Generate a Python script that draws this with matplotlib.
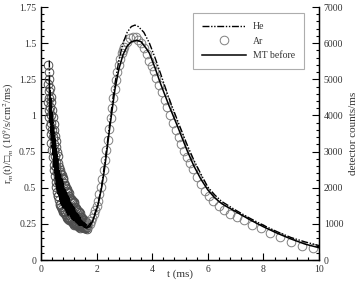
import matplotlib
matplotlib.use("Agg")
import matplotlib.pyplot as plt
from matplotlib.ticker import MultipleLocator, FuncFormatter

plt.rcParams['font.family'] = ['Liberation Serif', 'DejaVu Serif']
plt.rcParams['mathtext.fontset'] = 'stix'

# ---- data ----
# Ar (circles): noisy early region read as upper / middle / lower band values
t_ar_early = [0.250, 0.275, 0.300, 0.325, 0.350, 0.375, 0.400, 0.425, 0.450, 0.475,
              0.500, 0.525, 0.550, 0.575, 0.600, 0.625, 0.650, 0.675, 0.700, 0.725,
              0.750, 0.775, 0.800, 0.825, 0.850, 0.875, 0.900, 0.925, 0.950, 0.975,
              1.000, 1.025, 1.050, 1.075, 1.100, 1.125, 1.150, 1.175, 1.200, 1.225,
              1.250, 1.275, 1.300, 1.325, 1.350, 1.375, 1.400, 1.425, 1.450, 1.475,
              1.500, 1.525, 1.550, 1.575, 1.600, 1.625, 1.650]
y_ar_up = [1.35, 1.30, 1.25, 1.19, 1.13, 1.09, 1.04, 0.99, 0.94, 0.90,
           0.86, 0.82, 0.785, 0.75, 0.72, 0.67, 0.645, 0.62, 0.61, 0.595,
           0.585, 0.57, 0.56, 0.53, 0.52, 0.51, 0.50, 0.49, 0.48, 0.472,
           0.465, 0.44, 0.432, 0.424, 0.417, 0.41, 0.404, 0.398, 0.392, 0.364,
           0.358, 0.351, 0.345, 0.34, 0.335, 0.33, 0.325, 0.30, 0.296, 0.29,
           0.285, 0.28, 0.275, 0.27, 0.265, 0.26, 0.255]
y_ar_mid = [1.22, 1.17, 1.12, 1.06, 1.00, 0.95, 0.90, 0.85, 0.80, 0.76,
            0.72, 0.68, 0.645, 0.61, 0.58, 0.55, 0.525, 0.50, 0.49, 0.475,
            0.465, 0.45, 0.44, 0.43, 0.42, 0.41, 0.40, 0.39, 0.38, 0.372,
            0.365, 0.358, 0.35, 0.342, 0.335, 0.328, 0.322, 0.316, 0.31, 0.304,
            0.298, 0.291, 0.285, 0.28, 0.275, 0.27, 0.265, 0.26, 0.256, 0.252,
            0.248, 0.244, 0.24, 0.237, 0.235, 0.232, 0.23]
y_ar_lo = [1.09, 1.04, 0.99, 0.93, 0.87, 0.81, 0.76, 0.71, 0.66, 0.62,
           0.58, 0.54, 0.505, 0.47, 0.44, 0.44, 0.415, 0.39, 0.38, 0.365,
           0.355, 0.34, 0.33, 0.34, 0.33, 0.32, 0.31, 0.30, 0.29, 0.282,
           0.275, 0.29, 0.282, 0.274, 0.267, 0.26, 0.254, 0.248, 0.242, 0.255,
           0.25, 0.245, 0.24, 0.236, 0.232, 0.228, 0.224, 0.238, 0.235, 0.232,
           0.229, 0.226, 0.224, 0.222, 0.22, 0.218, 0.216]

t_ar = [1.70, 1.75, 1.80, 1.85, 1.90, 1.95, 2.00, 2.05, 2.10, 2.15, 2.20, 2.25,
        2.30, 2.35, 2.40, 2.45, 2.50, 2.55, 2.60, 2.65, 2.70, 2.75, 2.80, 2.85,
        2.90, 2.95, 3.00, 3.10, 3.20, 3.30, 3.40, 3.50, 3.60, 3.70, 3.80, 3.90,
        3.975, 4.05, 4.15, 4.25, 4.35, 4.45, 4.55, 4.65, 4.75, 4.85, 4.95, 5.05,
        5.15, 5.25, 5.35, 5.45, 5.60, 5.75, 5.90, 6.05, 6.20, 6.40, 6.60, 6.80,
        7.05, 7.30, 7.60, 7.90, 8.25, 8.60, 9.00, 9.40, 9.80]
y_ar = [0.235, 0.25, 0.27, 0.29, 0.315, 0.345, 0.375, 0.41, 0.455, 0.505, 0.56, 0.625,
        0.69, 0.76, 0.83, 0.905, 0.98, 1.05, 1.12, 1.185, 1.245, 1.30, 1.35, 1.39,
        1.43, 1.455, 1.475, 1.51, 1.535, 1.545, 1.54, 1.525, 1.50, 1.465, 1.425, 1.38,
        1.345, 1.31, 1.26, 1.21, 1.16, 1.11, 1.055, 1.00, 0.95, 0.90, 0.85, 0.80,
        0.755, 0.71, 0.67, 0.63, 0.575, 0.525, 0.48, 0.44, 0.41, 0.375, 0.345, 0.32,
        0.30, 0.275, 0.245, 0.22, 0.19, 0.16, 0.125, 0.10, 0.08]

# MT before (solid line)
t_mt = [0.300, 0.325, 0.350, 0.375, 0.400, 0.425, 0.450, 0.475, 0.500, 0.525,
        0.550, 0.575, 0.600, 0.625, 0.650, 0.675, 0.700, 0.725, 0.750, 0.775,
        0.800, 0.825, 0.850, 0.875, 0.900, 0.925, 0.950, 0.975, 1.000, 1.025,
        1.050, 1.075, 1.100, 1.125, 1.150, 1.175, 1.200, 1.225, 1.250, 1.275,
        1.300, 1.325, 1.350, 1.375, 1.400, 1.425, 1.450, 1.475, 1.500, 1.525,
        1.550, 1.575, 1.600, 1.625, 1.65, 1.75, 1.85, 1.95, 2.05, 2.18, 2.27, 2.36,
        2.45, 2.54, 2.66, 2.80, 2.95, 3.10, 3.25, 3.44, 3.60, 3.80, 3.90, 4.10,
        4.30, 4.60, 4.90, 5.25, 5.50, 5.75, 6.00, 6.25, 6.50, 7.00, 7.50, 8.00,
        8.50, 9.00, 9.50, 10.0]
y_mt = [1.25, 0.95, 1.12, 0.83, 1.02, 0.73, 0.92, 0.64, 0.84, 0.56,
        0.77, 0.49, 0.70, 0.46, 0.62, 0.42, 0.59, 0.39, 0.56, 0.37,
        0.53, 0.37, 0.49, 0.35, 0.47, 0.33, 0.45, 0.31, 0.43, 0.315,
        0.40, 0.30, 0.385, 0.285, 0.37, 0.275, 0.36, 0.27, 0.33, 0.26,
        0.32, 0.25, 0.31, 0.24, 0.295, 0.245, 0.275, 0.24, 0.265, 0.232,
        0.258, 0.225, 0.25, 0.222, 0.222, 0.232, 0.265, 0.32, 0.38, 0.50, 0.61, 0.74,
        0.88, 1.01, 1.18, 1.32, 1.42, 1.48, 1.51, 1.52, 1.51, 1.46, 1.43, 1.33,
        1.22, 1.07, 0.93, 0.76, 0.65, 0.56, 0.485, 0.43, 0.39, 0.335, 0.28, 0.23,
        0.185, 0.145, 0.11, 0.085]

# He (dash-dot-dot line)
t_he = [0.300, 0.3125, 0.325, 0.350, 0.375, 0.400, 0.425, 0.450, 0.475, 0.500,
        0.525, 0.550, 0.575, 0.600, 0.625, 0.650, 0.675, 0.700, 0.725, 0.750,
        0.775, 0.800, 0.825, 0.850, 0.875, 0.900, 0.925, 0.950, 0.975, 1.000,
        1.025, 1.050, 1.075, 1.100, 1.125, 1.150, 1.175, 1.200, 1.225, 1.250,
        1.275, 1.300, 1.325, 1.350, 1.375, 1.400, 1.425, 1.450, 1.475, 1.500,
        1.525, 1.550, 1.575, 1.600, 1.625, 1.65, 1.85, 2.05, 2.18, 2.36, 2.54,
        2.66, 2.80, 2.95, 3.10, 3.25, 3.38, 3.50, 3.70, 3.90, 4.10, 4.30, 4.60,
        4.90, 5.25, 5.50, 5.75, 6.00, 6.25, 6.50, 7.00, 7.50, 8.00, 8.50, 9.00,
        9.50, 10.0]
y_he = [1.38, 1.00, 1.18, 0.88, 1.07, 0.78, 0.97, 0.69, 0.88, 0.60,
        0.80, 0.52, 0.73, 0.46, 0.64, 0.44, 0.60, 0.40, 0.57, 0.38,
        0.55, 0.36, 0.50, 0.36, 0.48, 0.34, 0.46, 0.32, 0.44, 0.31,
        0.41, 0.305, 0.39, 0.29, 0.38, 0.28, 0.365, 0.27, 0.34, 0.265,
        0.325, 0.255, 0.315, 0.245, 0.30, 0.24, 0.28, 0.24, 0.27, 0.235,
        0.26, 0.228, 0.252, 0.224, 0.245, 0.225, 0.27, 0.39, 0.51, 0.77, 1.05,
        1.22, 1.38, 1.50, 1.575, 1.615, 1.625, 1.615, 1.575, 1.50, 1.40, 1.29, 1.12,
        0.97, 0.80, 0.69, 0.595, 0.505, 0.45, 0.405, 0.345, 0.29, 0.24, 0.195, 0.155,
        0.125, 0.10]

x_ticks = [0, 2, 4, 6, 8, 10]
y_ticks = [0, 0.25, 0.5, 0.75, 1, 1.25, 1.5, 1.75]
y2_ticks = [0, 1000, 2000, 3000, 4000, 5000, 6000, 7000]

# ---- figure ----
fig = plt.figure(figsize=(3.59, 2.81), dpi=100)
ax = fig.add_axes([0.1142, 0.0747, 0.7744, 0.9003])

mk = dict(linestyle='none', marker='o', ms=6.2, mfc='none', mew=0.7, zorder=2)
for yy in (y_ar_up, y_ar_mid, y_ar_lo):
    ax.plot(t_ar_early, yy, mec='#505050', **mk)
ax.plot(t_ar, y_ar, mec='#808080', label='Ar', **mk)
ax.plot(t_he, y_he, color='black', lw=1.0,
        linestyle=(0, (5, 1.2, 1, 1.2, 1, 1.2)), label='He', zorder=3)
ax.plot(t_mt, y_mt, color='black', lw=1.1, label='MT before', zorder=3)

ax.set_xlim(0, 10)
ax.set_ylim(0, 1.75)
ax.set_xticks(x_ticks)
ax.set_yticks(y_ticks)
ax.xaxis.set_minor_locator(MultipleLocator(0.4))
ax.yaxis.set_minor_locator(MultipleLocator(0.05))
ax.yaxis.set_major_formatter(FuncFormatter(lambda v, p: f"{v:g}"))
ax.tick_params(which='both', direction='in', labelsize=7, colors='black',
               labelcolor='#333333', width=0.8)
ax.tick_params(which='major', length=5)
ax.tick_params(which='minor', length=2.5)
ax.spines['top'].set_visible(False)
for s in ['left', 'bottom', 'right']:
    ax.spines[s].set_linewidth(1.0)

ax.set_xlabel('t (ms)', fontsize=8, color='#333333', va='top')
ax.xaxis.set_label_coords(0.5, -0.036)
ax.set_ylabel('r$_{m}$(t)/\u25a1$_{m}$ (10$^{9}$/s/cm$^{2}$/ms)', fontsize=7.5,
              labelpad=2, color='#333333')

ax2 = ax.twinx()
ax2.set_ylim(0, 7000)
ax2.set_yticks(y2_ticks)
ax2.yaxis.set_minor_locator(MultipleLocator(200))
ax2.tick_params(which='both', direction='in', labelsize=7, labelcolor='#333333', width=0.8)
ax2.tick_params(which='major', length=5)
ax2.tick_params(which='minor', length=2.5)
ax2.spines['top'].set_visible(False)
ax2.set_ylabel('detector counts/ms', fontsize=8, color='#333333', labelpad=4)

h, l = ax.get_legend_handles_labels()
order = [1, 0, 2]
leg = ax.legend([h[i] for i in order], [l[i] for i in order],
                loc='upper left', bbox_to_anchor=(0.547, 0.976),
                fontsize=7, handlelength=4.5, frameon=True, fancybox=False,
                edgecolor='#999999', borderpad=0.95, labelspacing=0.55,
                handletextpad=0.72, borderaxespad=0)
leg.get_frame().set_linewidth(0.8)
for txt in leg.get_texts():
    txt.set_color('#333333')

fig.savefig('out.png', dpi=100)
